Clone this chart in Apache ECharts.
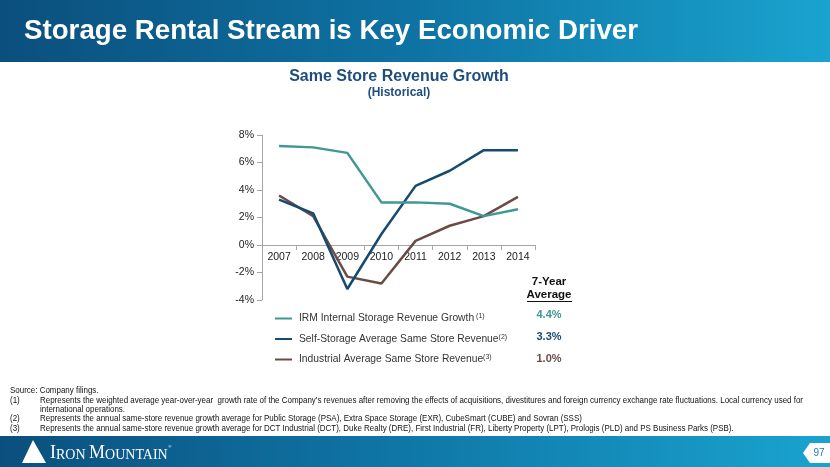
<!DOCTYPE html>
<html>
<head>
<meta charset="utf-8">
<script src="https://cdn.jsdelivr.net/npm/echarts@6/dist/echarts.min.js"></script>
<style>
html,body{margin:0;padding:0;background:#fff;}
#c{width:830px;height:467px;}
</style>
</head>
<body>
<div id="c"></div>
<script>
var years = ['2007','2008','2009','2010','2011','2012','2013','2014'];
var irmGrowth = [7.2, 7.1, 6.7, 3.1, 3.1, 3.0, 2.1, 2.6];
var selfStorage = [3.3, 2.3, -3.2, 0.8, 4.3, 5.4, 6.9, 6.9];
var industrial = [3.6, 2.1, -2.3, -2.8, 0.3, 1.4, 2.1, 3.5];
var seriesNames = ['IRM Internal Storage Revenue Growth', 'Self-Storage Average Same Store Revenue', 'Industrial Average Same Store Revenue'];
var seriesNotes = [' (1)', '(2)', '(3)'];
var sevenYearAvg = ['4.4%', '3.3%', '1.0%'];
var yTicks = {min: -4, max: 8, interval: 2};
var footnotes = [
  'Source: Company filings.',
  ['(1)', 'Represents the weighted average year-over-year  growth rate of the Company\u2019s revenues after removing the effects of acquisitions, divestitures and foreign currency exchange rate fluctuations. Local currency used for'],
  ['', 'international operations.'],
  ['(2)', 'Represents the annual same-store revenue growth average for Public Storage (PSA), Extra Space Storage (EXR), CubeSmart (CUBE) and Sovran (SSS)'],
  ['(3)', 'Represents the annual same-store revenue growth average for DCT Industrial (DCT), Duke Realty (DRE), First Industrial (FR), Liberty Property (LPT), Prologis (PLD) and PS Business Parks (PSB).']
];

var colors = ['#3f9893', '#174a70', '#6b4b48'];
var FONT = "'Liberation Sans', Arial, sans-serif";
var FN_FONT = "9.5px 'Liberation Sans', Arial, sans-serif";

var mctx = document.createElement('canvas').getContext('2d');
mctx.font = FN_FONT;
var fnScale = 763 / mctx.measureText(footnotes[1][1]).width;

var chart = echarts.init(document.getElementById('c'), null, {renderer: 'canvas'});

var GRID = {left: 262, right: 295, top: 135, bottom: 167};
var gridH = 467 - GRID.top - GRID.bottom;
var zeroOffset = -gridH * (0 - yTicks.min) / (yTicks.max - yTicks.min);

var graphics = [];
graphics.push({
  type: 'rect', left: 0, top: 0, z: 0,
  shape: {width: 830, height: 62},
  style: {fill: new echarts.graphic.LinearGradient(0, 0, 1, 0, [
    {offset: 0, color: '#0b4f7d'}, {offset: 0.5, color: '#0e73a3'}, {offset: 1, color: '#1aa3cf'}])}
});
graphics.push({
  type: 'text', left: 24, top: 17, z: 2,
  style: {text: 'Storage Rental Stream is Key Economic Driver', fill: '#ffffff', font: 'bold 27.7px ' + FONT}
});
graphics.push({
  type: 'rect', left: 0, top: 436, z: 0,
  shape: {width: 830, height: 31},
  style: {fill: new echarts.graphic.LinearGradient(0, 0, 1, 0, [
    {offset: 0, color: '#0b4f7d'}, {offset: 0.5, color: '#0f78a8'}, {offset: 1, color: '#1aa3cf'}])}
});
graphics.push({
  type: 'polygon', z: 2,
  shape: {points: [[33, 440], [22, 463], [46, 463]]},
  style: {fill: '#ffffff'}
});
graphics.push({
  type: 'text', left: 50, top: 444, z: 2,
  style: {
    text: '{b|I}{s|RON }{b|M}{s|OUNTAIN}{r|\u00ae}',
    fill: '#ffffff',
    rich: {
      b: {font: '18px "Liberation Serif", "DejaVu Serif", serif', fill: '#fff'},
      s: {font: '14px "Liberation Serif", "DejaVu Serif", serif', fill: '#fff', verticalAlign: 'bottom'},
      r: {font: '5px "Liberation Serif", serif', fill: '#fff', verticalAlign: 'top'}
    }
  }
});
graphics.push({
  type: 'polygon', z: 2,
  shape: {points: [[810, 443], [830, 443], [830, 463], [810, 463], [803, 453]]},
  style: {fill: '#ffffff'}
});
graphics.push({
  type: 'text', x: 819, y: 453, z: 3,
  style: {text: '97', fill: '#1a7fae', font: '10px ' + FONT, align: 'center', verticalAlign: 'middle'}
});
graphics.push({
  type: 'text', x: 399, y: 77, z: 2,
  style: {text: 'Same Store Revenue Growth', fill: '#1f4e7d', font: 'bold 16px ' + FONT, align: 'center', verticalAlign: 'middle'}
});
graphics.push({
  type: 'text', x: 399, y: 93, z: 2,
  style: {text: '(Historical)', fill: '#1f4e7d', font: 'bold 12px ' + FONT, align: 'center', verticalAlign: 'middle'}
});
graphics.push({
  type: 'text', x: 549, y: 282, z: 2,
  style: {text: '7-Year', fill: '#111', font: 'bold 11.5px ' + FONT, align: 'center', verticalAlign: 'middle'}
});
graphics.push({
  type: 'text', x: 549, y: 295, z: 2,
  style: {text: 'Average', fill: '#111', font: 'bold 11.5px ' + FONT, align: 'center', verticalAlign: 'middle'}
});
graphics.push({
  type: 'line', z: 2,
  shape: {x1: 527, y1: 301.5, x2: 572, y2: 301.5},
  style: {stroke: '#111', lineWidth: 1}
});
var rowY = [315, 337, 359];
for (var i = 0; i < sevenYearAvg.length; i++) {
  graphics.push({
    type: 'text', x: 549, y: rowY[i], z: 2,
    style: {text: sevenYearAvg[i], fill: colors[i], font: 'bold 11px ' + FONT, align: 'center', verticalAlign: 'middle'}
  });
}
var fnY = [390, 400, 409, 418, 428];
function fnText(x, y, t) {
  graphics.push({type: 'text', x: x, y: y, scaleX: fnScale, z: 2,
    style: {text: t, fill: '#111', font: FN_FONT, verticalAlign: 'middle'}});
}
for (var j = 0; j < footnotes.length; j++) {
  var f = footnotes[j];
  if (typeof f === 'string') {
    fnText(10, fnY[j], f);
  } else {
    if (f[0]) fnText(10, fnY[j], f[0]);
    fnText(40, fnY[j], f[1]);
  }
}

var series = [irmGrowth, selfStorage, industrial].map(function (d, i) {
  return {
    name: seriesNames[i], type: 'line', data: d, symbol: 'none', smooth: false,
    lineStyle: {color: colors[i], width: 2.5}, itemStyle: {color: colors[i]}, z: 3 - i
  };
});

var legendRich = {n: {fontFamily: FONT, fontSize: 10.3, color: '#333'}, s: {fontFamily: FONT, fontSize: 7, color: '#333', verticalAlign: 'top', padding: [0, 0, 4, 0]}};

chart.setOption({
  animation: false,
  backgroundColor: '#ffffff',
  color: colors,
  grid: {left: GRID.left, right: GRID.right, top: GRID.top, bottom: GRID.bottom, containLabel: false},
  legend: {
    orient: 'vertical', left: 270, top: 308, itemGap: 10, itemWidth: 17, itemHeight: 2,
    icon: 'rect',
    data: seriesNames,
    formatter: function (name) {
      var k = seriesNames.indexOf(name);
      return '{n|' + name + '}{s|' + seriesNotes[k] + '}';
    },
    textStyle: {rich: legendRich, padding: [0, 0, 0, 2]}
  },
  xAxis: {
    type: 'category', data: years, boundaryGap: true, position: 'bottom', offset: zeroOffset,
    axisLine: {onZero: false, lineStyle: {color: '#a6a6a6', width: 1}},
    axisTick: {show: true, inside: false, length: 5, lineStyle: {color: '#a6a6a6'}},
    axisLabel: {color: '#222', fontFamily: FONT, fontSize: 10.5, margin: 7, interval: 0}
  },
  yAxis: {
    type: 'value', min: yTicks.min, max: yTicks.max, interval: yTicks.interval,
    axisLine: {show: true, lineStyle: {color: '#a6a6a6', width: 1}},
    axisTick: {show: true, length: 5, lineStyle: {color: '#a6a6a6'}},
    splitLine: {show: false},
    axisLabel: {color: '#222', fontFamily: FONT, fontSize: 10.5, margin: 8, formatter: '{value}%'}
  },
  series: series,
  graphic: graphics
});
</script>
</body>
</html>
